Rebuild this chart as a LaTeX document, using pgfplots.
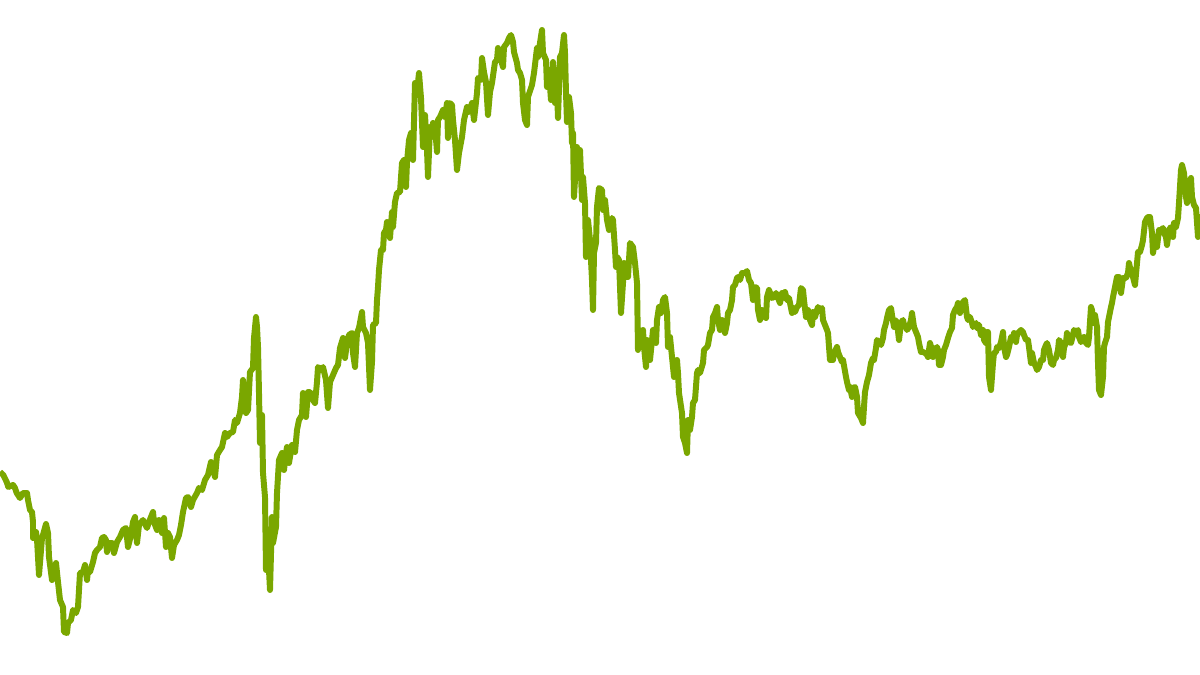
\documentclass[border=0pt]{standalone}
\usepackage{pgfplots}
\pgfplotsset{compat=1.18}
\definecolor{lineg}{RGB}{122,167,0}
\begin{document}
\begin{tikzpicture}
\begin{axis}[scale only axis, width=12cm, height=6.75cm,
  xmin=0, xmax=1200, ymin=0, ymax=675, y dir=reverse, hide axis]
\draw[draw=none] (rel axis cs:0,0) rectangle (rel axis cs:1,1);
\addplot[lineg, line width=1.7pt, line join=round, no markers] coordinates {
(0,472) (3.3,475) (6.7,482) (8.3,487) (13,485) (15,488) (16.7,493) (20,498) (23,493) (27,493) (28,500) (30,510) (32,512) (33,522) (33,538) (36,532) (37,539) (39,575) (42,538) (43,535) (46,524) (48,533) (49,557) (52,580) (54,573) (56,563) (58,582) (60,600) (63,607) (64,632) (67,633) (68,623) (71,620) (73,610) (76,613) (78,607) (80,573) (83,572) (85,565) (87,580) (88,570) (90,572) (93,562) (95,553) (97,550) (100,547) (102,538) (104,537) (106,540) (107,552) (108,543) (112,543) (114,553) (117,542) (120,537) (123,530) (126,528) (128,547) (131,535) (133,522) (135,517) (137,543) (139,525) (143,520) (147,528) (149,522) (153,512) (154,522) (157,530) (159,520) (162,533) (164,518) (166,547) (168,533) (170,537) (172,558) (174,545) (177,540) (179,535) (181,525) (183,512) (186,498) (188,497) (191,507) (193,500) (197,493) (199,488)
(202,490) (205,480) (208,475) (211,462) (213,468) (215,477) (217,455) (220,450) (222,447) (225,433) (227,437) (230,433) (233,432) (235,420) (237,423) (240,413) (242,397) (243,380) (244,388) (246,413) (248,410) (250,372) (253,368) (254,338) (256,317) (257,327) (258,347) (259,393) (260,443) (262,415) (263,473) (265,497) (266,570) (268,550) (270,590) (272,517) (273,543) (276,527) (277,493) (279,460) (282,453) (284,470) (286,453) (287,447) (289,463) (292,445) (295,452) (297,430) (299,420) (302,415) (303,393) (306,417) (308,392) (310,392) (313,400) (315,403) (317,382) (318,367) (321,370) (323,367) (326,380) (328,408) (330,382) (333,375) (336,368) (338,365) (340,348) (343,338) (345,358) (347,343) (349,335) (352,333) (353,353) (355,367) (357,333) (359,328) (362,312) (363,327) (366,333) (368,343) (370,390) (372,362) (373,325) (376,323) (377,300)
(378,287) (379,270) (381,250) (383,250) (384,233) (386,230) (387,222) (390,238) (392,212) (393,227) (395,202) (397,193) (400,192) (402,163) (404,160) (406,187) (407,162) (409,140) (411,133) (413,160) (415,83) (417,92) (419,73) (421,98) (423,147) (425,115) (427,150) (428,177) (430,127) (432,137) (433,123) (435,127) (437,152) (438,120) (440,117) (443,110) (445,117) (447,103) (448,138) (450,103) (452,105) (453,120) (455,140) (457,170) (459,153) (462,137) (464,120) (467,107) (469,112) (472,103) (474,120) (477,93) (478,78) (481,80) (482,58) (484,72) (486,82) (488,115) (490,92) (492,83) (495,62) (497,60) (498,48) (500,57) (503,67) (504,47) (507,43) (509,38) (511,35) (513,42) (514,52) (517,63) (518,70) (520,73) (522,80) (523,103) (525,120) (527,125) (528,97) (532,85) (534,73) (537,48) (538,57) (540,43) (542,30) (543,53) (546,60) (547,87) (549,73) (551,100) (553,62) (555,103) (557,90) (558,118) (560,57) (562,53) (564,35) (565,53) (566,93) (567,122) (569,97) (571,113) (572,143) (573,133) (574,197) (576,163) (577,147) (578,173) (580,150) (582,200) (583,177) (585,203) (586,257) (588,220) (590,240) (592,280) (593,310) (594,253) (596,243) (597,207) (599,188) (602,190) (603,210) (605,200) (607,220) (609,230) (612,218) (613,220) (615,250) (616,267) (617,257) (619,260) (621,313) (623,283) (624,263) (626,277) (628,277) (630,243) (633,247) (635,263) (637,283) (638,350) (639,330) (641,340) (643,330) (644,347) (646,367) (647,340) (650,360) (652,340) (653,330) (656,343) (657,320) (659,307) (661,313) (663,300) (665,297) (667,313) (668,347) (670,337) (672,357) (674,377) (677,360) (678,373) (679,393) (682,413) (683,437) (685,443) (687,453) (688,420) (690,430) (692,417) (693,403) (695,400) (697,373) (698,370) (700,373) (703,363) (704,350) (707,347) (708,345) (710,333) (712,330) (713,317) (715,313) (717,307) (718,320) (720,330) (722,320) (723,323) (725,333) (727,323) (728,313) (730,310) (732,300) (733,287) (735,285) (737,278) (738,277) (740,280) (742,273) (745,273) (747,271) (749,280) (751,283) (753,300) (755,287) (757,288) (758,310) (760,320) (762,310) (764,315) (766,318) (767,297) (769,290) (772,298) (774,297) (776,293) (778,298) (780,303) (782,293) (783,298) (785,292) (787,300) (789,298) (792,313) (793,308) (795,312) (797,307) (799,305) (801,288) (803,290) (804,300) (806,317) (808,310) (810,320) (812,325) (813,312) (815,317) (817,310) (818,307) (820,310) (822,308) (823,320) (825,325) (827,330) (828,333) (830,360) (833,360) (834,353) (837,347) (838,352) (840,357) (842,362) (843,360) (846,377) (847,382) (849,390) (850,387) (852,397) (853,388) (855,387) (857,397) (858,413) (861,418) (863,423) (864,407) (865,392) (867,382) (869,375) (871,363) (873,358) (874,360) (876,348) (877,340) (879,342) (881,345) (883,338) (884,330) (886,323) (887,318) (889,310) (891,308) (892,315) (894,327) (895,320) (897,322) (899,340) (901,323) (903,320) (904,325) (906,327) (907,330) (909,327) (911,320) (912,313) (914,327) (916,332) (918,337) (919,343) (921,352) (923,352) (925,353) (927,355) (928,357) (930,343) (932,350) (933,357) (935,350) (937,347) (938,350) (939,365) (941,365) (943,357) (944,350) (946,345) (948,338) (950,332) (952,328) (953,315) (955,310) (957,307) (958,303) (960,313) (962,307) (963,302) (965,300) (967,317) (968,320) (970,317) (972,323) (973,327) (976,323) (977,328) (979,325) (981,335) (983,330) (984,340) (986,343) (987,332) (988,332) (989,377) (991,390) (993,363) (994,353) (996,352) (997,347) (999,348) (1001,342) (1003,332) (1004,347) (1006,357) (1007,355) (1009,347) (1011,337) (1013,338) (1014,333) (1016,342) (1017,335) (1019,332) (1021,330) (1023,332) (1024,335) (1026,340) (1028,340) (1029,347) (1031,363) (1032,353) (1034,363) (1036,367) (1037,370) (1039,367) (1041,360) (1043,360) (1044,350) (1046,345) (1047,343) (1049,350) (1051,363) (1053,365) (1054,360) (1056,358) (1058,350) (1059,340) (1061,343) (1063,357) (1064,348) (1066,342) (1067,333) (1069,342) (1071,343) (1073,335) (1074,330) (1076,332) (1078,330) (1079,337) (1081,342) (1083,340) (1084,337) (1086,343) (1088,345) (1089,337) (1091,307) (1092,310) (1093,323) (1095,315) (1097,327) (1098,363) (1099,390) (1101,395) (1103,377) (1104,347) (1105,343) (1107,337) (1108,322) (1109,317) (1111,307) (1112,303) (1113,297) (1115,287) (1117,277) (1119,277) (1121,293) (1123,278) (1126,278) (1128,273) (1129,263) (1131,272) (1132,270) (1133,277) (1135,285) (1137,263) (1138,252) (1140,252) (1142,245) (1143,240) (1145,222) (1147,218) (1148,217) (1150,217) (1152,233) (1153,253) (1154,247) (1156,237) (1157,247) (1159,230) (1161,230) (1163,228) (1164,233) (1166,237) (1167,245) (1169,230) (1171,227) (1173,237) (1174,223) (1176,227) (1178,218) (1179,203) (1181,170) (1182,165) (1184,173) (1186,197) (1187,203) (1189,183) (1191,178) (1192,197) (1194,205) (1196,208) (1198,237) (1199,217) (1200,217)
};
\end{axis}
\end{tikzpicture}
\end{document}
